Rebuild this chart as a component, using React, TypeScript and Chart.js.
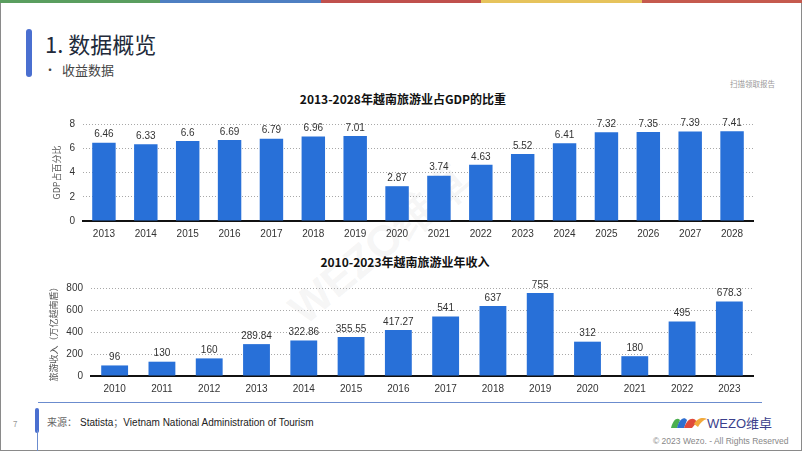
import React, { useEffect, useRef } from "react";
import { Chart, registerables } from "chart.js";

Chart.register(...registerables);

// ---- Data ----
const gdpYears = ["2013", "2014", "2015", "2016", "2017", "2018", "2019", "2020", "2021", "2022", "2023", "2024", "2025", "2026", "2027", "2028"];
const gdpShare = [6.46, 6.33, 6.6, 6.69, 6.79, 6.96, 7.01, 2.87, 3.74, 4.63, 5.52, 6.41, 7.32, 7.35, 7.39, 7.41];
const revYears = ["2010", "2011", "2012", "2013", "2014", "2015", "2016", "2017", "2018", "2019", "2020", "2021", "2022", "2023"];
const revenue = [96, 130, 160, 289.84, 322.86, 355.55, 417.27, 541, 637, 755, 312, 180, 495, 678.3];

const gdpTitle = "2013-2028年越南旅游业占GDP的比重";
const revTitle = "2010-2023年越南旅游业年收入";
const gdpAxisTitle = "GDP占百分比";
const revAxisTitle = "旅游收入（万亿越南盾）";

const BAR = "#2870d8";
const TICK_FONT = "'Liberation Sans', Arial, sans-serif";
const CJK = "'Noto Sans CJK SC', 'Noto Sans', sans-serif";

const valueLabels = {
  id: "valueLabels",
  afterDatasetsDraw(chart: any) {
    const ctx = chart.ctx;
    const meta = chart.getDatasetMeta(0);
    const data = chart.data.datasets[0].data;
    ctx.save();
    ctx.font = `10px ${TICK_FONT}`;
    ctx.fillStyle = "#333";
    ctx.textAlign = "center";
    ctx.textBaseline = "bottom";
    meta.data.forEach((bar: any, i: number) => {
      ctx.fillText(String(data[i]), bar.x, bar.y - 3);
    });
    ctx.restore();
  },
};

function buildChart(
  canvas: HTMLCanvasElement,
  labels: string[],
  values: number[],
  max: number,
  step: number,
  axisTitle: string,
  yWidth: number,
  padRight: number,
  barPct: number
) {
  return new Chart(canvas, {
    type: "bar",
    data: {
      labels,
      datasets: [
        {
          data: values,
          backgroundColor: BAR,
          categoryPercentage: 0.8,
          barPercentage: barPct,
        },
      ],
    },
    options: {
      animation: false,
      responsive: false,
      devicePixelRatio: 1,
      layout: { padding: { top: 9, right: padRight, left: 0, bottom: 0 } },
      plugins: { legend: { display: false }, tooltip: { enabled: false }, title: { display: false } },
      scales: {
        x: {
          grid: { display: false, drawTicks: false },
          border: { display: true, color: "#111", width: 2 },
          ticks: { padding: 7, color: "#333", font: { size: 10, family: TICK_FONT } },
          afterFit(scale: any) {
            scale.height = 24;
          },
        },
        y: {
          min: 0,
          max,
          ticks: { stepSize: step, padding: 8, color: "#333", font: { size: 10, family: TICK_FONT } },
          grid: { color: "#a8a8a8", drawTicks: false, lineWidth: 1 },
          border: { display: false, dash: [1, 2] },
          title: {
            display: true,
            text: axisTitle,
            color: "#555",
            font: { size: 9, family: CJK },
            padding: { top: 4, bottom: 0 },
          },
          afterFit(scale: any) {
            scale.width = yWidth;
          },
        },
      },
    } as any,
    plugins: [valueLabels],
  });
}

export default function App() {
  const ref1 = useRef<HTMLCanvasElement>(null);
  const ref2 = useRef<HTMLCanvasElement>(null);

  useEffect(() => {
    document.body.style.margin = "0";
    const c1 = buildChart(ref1.current!, gdpYears, gdpShare, 8, 2, gdpAxisTitle, 36, 34, 0.7);
    const c2 = buildChart(ref2.current!, revYears, revenue, 800, 200, revAxisTitle, 47, 31, 0.71);
    return () => {
      c1.destroy();
      c2.destroy();
    };
  }, []);

  const stripe = ["#5a9e5f", "#4e7fc2", "#c0504d", "#e6c35c", "#c55a4e"];

  return (
    <div
      style={{
        position: "fixed",
        left: 0,
        top: 0,
        width: 802,
        height: 451,
        background: "#fff",
        overflow: "hidden",
        fontFamily: CJK,
      }}
    >
      {/* frame */}
      <div style={{ position: "absolute", left: 0, top: 0, width: 802, height: 451, boxSizing: "border-box", border: "1px solid #8a8a8a" }} />
      {stripe.map((c, i) => (
        <div key={i} style={{ position: "absolute", left: i * 160.4, top: 0, width: 160.4, height: 3, background: c }} />
      ))}

      {/* heading */}
      <div style={{ position: "absolute", left: 26, top: 29, width: 6, height: 48, borderRadius: 3, background: "#4a6fd0" }} />
      <div style={{ position: "absolute", left: 45, top: 28, fontSize: 22, lineHeight: "30px", color: "#222a3a", whiteSpace: "nowrap" }}>1. 数据概览</div>
      <div style={{ position: "absolute", left: 44, top: 61, fontSize: 12, lineHeight: "18px", color: "#444" }}>•</div>
      <div style={{ position: "absolute", left: 62, top: 61, fontSize: 13, lineHeight: "18px", color: "#444", whiteSpace: "nowrap" }}>收益数据</div>
      <div style={{ position: "absolute", left: 730, top: 79, fontSize: 7.5, lineHeight: "10px", color: "#9a9a9a", whiteSpace: "nowrap" }}>扫描领取报告</div>

      {/* watermark */}
      <div
        style={{
          position: "absolute",
          left: 270,
          top: 215,
          fontSize: 44,
          fontWeight: 700,
          color: "rgba(160,160,160,0.11)",
          transform: "rotate(-40deg)",
          whiteSpace: "nowrap",
          fontFamily: "'Liberation Sans', Arial, sans-serif",
        }}
      >
        WEZO维卓
      </div>

      {/* chart titles */}
      <div style={{ position: "absolute", left: 203, width: 400, top: 91, textAlign: "center", fontSize: 12, fontWeight: 700, lineHeight: "16px", color: "#111", whiteSpace: "nowrap" }}>{gdpTitle}</div>
      <div style={{ position: "absolute", left: 205, width: 400, top: 254, textAlign: "center", fontSize: 12, fontWeight: 700, lineHeight: "16px", color: "#111", whiteSpace: "nowrap" }}>{revTitle}</div>

      <canvas ref={ref1} width={740} height={135} style={{ position: "absolute", left: 47, top: 110 }} />
      <canvas ref={ref2} width={740} height={126} style={{ position: "absolute", left: 44, top: 274 }} />

      {/* footer */}
      <div style={{ position: "absolute", left: 38, top: 402, width: 724, height: 1, background: "#6b8cce" }} />
      <div style={{ position: "absolute", left: 35, top: 408, width: 4, height: 25, borderRadius: 2, background: "#4a6fd0" }} />
      <div style={{ position: "absolute", left: 36.5, top: 430, width: 1, height: 21, background: "#6b8cce" }} />
      <div style={{ position: "absolute", left: 13, top: 419, fontSize: 8, lineHeight: "10px", color: "#999" }}>7</div>
      <div style={{ position: "absolute", left: 47, top: 414, fontSize: 10, lineHeight: "15px", color: "#222", whiteSpace: "nowrap" }}>
        <span style={{ color: "#666" }}>来源：</span>
        <span style={{ fontFamily: "'Liberation Sans', Arial, sans-serif", marginLeft: 3 }}>Statista</span>
        <span style={{ color: "#666" }}>；</span>
        <span style={{ fontFamily: "'Liberation Sans', Arial, sans-serif" }}>Vietnam National Administration of Tourism</span>
      </div>

      {/* logo */}
      <svg style={{ position: "absolute", left: 670, top: 414 }} width={38} height={16} viewBox="0 0 38 16">
        <path d="M1 14 C3 6, 7 3, 10 6 L7 14 Z" fill="#4caf50" />
        <path d="M7 14 C9 5, 14 2, 17 6 L14 14 Z" fill="#2f6fd0" />
        <path d="M14 14 C17 4, 24 2, 27 8 L22 14 Z" fill="#e04a3a" />
        <path d="M24 10 C27 4, 33 3, 37 5 C33 6, 30 9, 28 13 Z" fill="#f2a93b" />
      </svg>
      <div style={{ position: "absolute", left: 707, top: 414, fontSize: 13, lineHeight: "18px", color: "#3b3f8c", whiteSpace: "nowrap", fontFamily: "'Liberation Sans', Arial, sans-serif" }}>
        WEZO<span style={{ fontFamily: CJK }}>维卓</span>
      </div>
      <div style={{ position: "absolute", left: 653, top: 435, fontSize: 8.5, lineHeight: "12px", color: "#888", whiteSpace: "nowrap", fontFamily: "'Liberation Sans', Arial, sans-serif" }}>
        © 2023 Wezo. - All Rights Reserved
      </div>
    </div>
  );
}
